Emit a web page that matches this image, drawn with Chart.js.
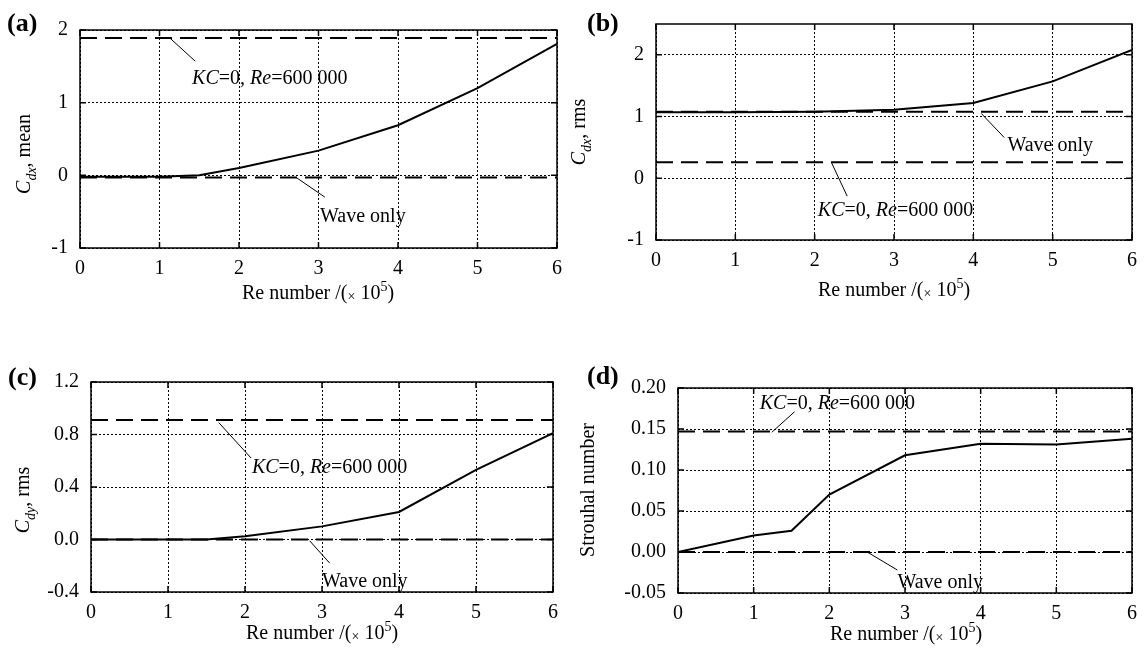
<!DOCTYPE html>
<html>
<head>
<meta charset="utf-8">
<script src="https://cdn.jsdelivr.net/npm/chart.js@4.4.0/dist/chart.umd.min.js"></script>
<style>
  html, body { margin: 0; padding: 0; background: #fff; }
  #wrap { position: relative; width: 1146px; height: 657px; }
  canvas { position: absolute; left: 0; top: 0; }
</style>
</head>
<body>
<div id="wrap">
  <canvas id="chartA" width="1146" height="657"></canvas>
  <canvas id="chartB" width="1146" height="657"></canvas>
  <canvas id="chartC" width="1146" height="657"></canvas>
  <canvas id="chartD" width="1146" height="657"></canvas>
</div>
<script>
(() => {
  'use strict'

  // ---- data ----
  const xTicks = [0, 1, 2, 3, 4, 5, 6];

  const reA = [0, 1, 1.5, 2, 3, 4, 5, 6];
  const cdxMean = [-0.02, -0.02, 0.0, 0.1, 0.34, 0.69, 1.2, 1.81];
  const cdxMeanSteady = 1.89;   // KC=0, Re=600 000
  const cdxMeanWave = -0.03;    // wave only
  const yTicksA = [-1, 0, 1, 2];

  const reB = [0, 1, 2, 3, 4, 5, 6];
  const cdxRms = [1.07, 1.07, 1.08, 1.11, 1.22, 1.57, 2.08];
  const cdxRmsSteady = 0.26;
  const cdxRmsWave = 1.08;
  const yTicksB = [-1, 0, 1, 2];

  const reC = [0, 1, 1.5, 2, 3, 4, 5, 6];
  const cdyRms = [0, 0, 0, 0.025, 0.1, 0.21, 0.53, 0.81];
  const cdyRmsSteady = 0.91;
  const cdyRmsWave = 0.0;
  const yTicksC = [-0.4, 0, 0.4, 0.8, 1.2];

  const reD = [0, 1, 1.5, 2, 3, 4, 5, 6];
  const strouhal = [0, 0.02, 0.026, 0.07, 0.118, 0.132, 0.131, 0.138];
  const strouhalSteady = 0.147;
  const strouhalWave = 0.0;
  const yTicksD = [-0.05, 0, 0.05, 0.10, 0.15, 0.20];

  // ---- text helpers ----
  const FAM = '"Liberation Serif", "Times New Roman", serif';
  function fontFor(style, size) {
    if (style === 'b') return `bold ${size}px ${FAM}`;
    if (style === 'i') return `italic ${size}px ${FAM}`;
    if (style === 'isub') return `italic ${Math.round(size * 0.72)}px ${FAM}`;
    if (style === 'sup' || style === 'low') return `${Math.round(size * 0.72)}px ${FAM}`;
    return `${size}px ${FAM}`;
  }
  function shiftFor(style, size) {
    if (style === 'isub') return size * 0.3;
    if (style === 'sup') return -size * 0.38;
    if (style === 'low') return size * 0.12;
    return 0;
  }
  function drawRich(ctx, segs, cx, cy, size, align, rot) {
    ctx.save();
    ctx.translate(cx, cy);
    if (rot) ctx.rotate(-Math.PI / 2);
    ctx.textBaseline = 'alphabetic';
    ctx.textAlign = 'left';
    ctx.fillStyle = '#000';
    let w = 0;
    segs.forEach(([t, s]) => { ctx.font = fontFor(s, size); w += ctx.measureText(t).width; });
    let px = align === 'center' ? -w / 2 : 0;
    const base = size * 0.34;
    segs.forEach(([t, s]) => {
      ctx.font = fontFor(s, size);
      ctx.fillText(t, px, base + shiftFor(s, size));
      px += ctx.measureText(t).width;
    });
    ctx.restore();
  }

  const kcText = [['KC', 'i'], ['=0, ', ''], ['Re', 'i'], ['=600 000', '']];
  const waveText = [['Wave only', '']];
  const xTitle = [['Re number /(', ''], ['\u00d7', 'low'], [' 10', ''], ['5', 'sup'], [')', '']];

  // box, inner ticks, labels and notes
  const deco = {
    id: 'deco',
    afterDraw(chart, args, o) {
      const { ctx, chartArea: a, scales: { x, y } } = chart;
      ctx.save();
      ctx.setLineDash([]);
      ctx.strokeStyle = '#000';
      ctx.lineWidth = 1.5;
      ctx.strokeRect(a.left, a.top, a.right - a.left, a.bottom - a.top);
      ctx.beginPath();
      x.ticks.forEach(t => {
        const px = x.getPixelForValue(t.value);
        ctx.moveTo(px, a.bottom); ctx.lineTo(px, a.bottom - 6);
        ctx.moveTo(px, a.top); ctx.lineTo(px, a.top + 6);
      });
      y.ticks.forEach(t => {
        const py = y.getPixelForValue(t.value);
        ctx.moveTo(a.left, py); ctx.lineTo(a.left + 6, py);
        ctx.moveTo(a.right, py); ctx.lineTo(a.right - 6, py);
      });
      ctx.stroke();

      ctx.lineWidth = 1;
      o.notes.forEach(n => {
        ctx.beginPath();
        ctx.moveTo(x.getPixelForValue(n.from[0]), y.getPixelForValue(n.from[1]));
        ctx.lineTo(x.getPixelForValue(n.to[0]), y.getPixelForValue(n.to[1]));
        ctx.stroke();
        drawRich(ctx, n.text, x.getPixelForValue(n.at[0]), y.getPixelForValue(n.at[1]), 20, 'left', false);
      });
      ctx.restore();

      drawRich(ctx, [[o.label, 'b']], o.labelAt[0], o.labelAt[1], 26, 'left', false);
      drawRich(ctx, o.yTitle, o.yTitleAt[0], o.yTitleAt[1], 20, 'center', true);
      drawRich(ctx, xTitle, o.xTitleAt[0], o.xTitleAt[1], 20, 'center', false);
    }
  };

  const W = 1146, H = 657;
  const Y_AXIS_W = 62, X_AXIS_H = 34;

  function makePanel(id, area, xs, ys, steady, wave, yTicks, yMin, yMax, digits, decoOpts) {
    const line = (v) => [{ x: 0, y: v }, { x: 6, y: v }];
    return new Chart(document.getElementById(id), {
      type: 'line',
      data: {
        datasets: [{
          data: xs.map((v, i) => ({ x: v, y: ys[i] })),
          borderColor: '#000',
          borderWidth: 2,
          pointRadius: 0,
          tension: 0
        }, {
          data: line(steady),
          borderColor: '#000',
          borderWidth: 2,
          borderDash: [17, 8],
          pointRadius: 0
        }, {
          data: line(wave),
          borderColor: '#000',
          borderWidth: 2,
          borderDash: [17, 8],
          pointRadius: 0
        }]
      },
      options: {
        responsive: false,
        animation: false,
        events: [],
        layout: {
          padding: {
            left: area.l - Y_AXIS_W,
            top: area.t,
            right: W - area.r,
            bottom: H - area.b - X_AXIS_H
          }
        },
        scales: {
          x: {
            type: 'linear',
            min: 0,
            max: 6,
            afterFit: s => { s.height = X_AXIS_H; },
            afterBuildTicks: s => { s.ticks = xTicks.map(v => ({ value: v })); },
            grid: { color: '#000', lineWidth: 1, drawTicks: false },
            border: { display: false, dash: [2, 2] },
            ticks: {
              color: '#000',
              padding: 9,
              maxRotation: 0,
              autoSkip: false,
              font: { family: 'Liberation Serif', size: 20 },
              callback: v => String(v)
            }
          },
          y: {
            type: 'linear',
            min: yMin,
            max: yMax,
            afterFit: s => { s.width = Y_AXIS_W; },
            afterBuildTicks: s => { s.ticks = yTicks.map(v => ({ value: v })); },
            grid: { color: '#000', lineWidth: 1, drawTicks: false },
            border: { display: false, dash: [2, 2] },
            ticks: {
              color: '#000',
              padding: 12,
              autoSkip: false,
              font: { family: 'Liberation Serif', size: 20 },
              callback: v => v.toFixed(digits)
            }
          }
        },
        plugins: {
          legend: { display: false },
          tooltip: { enabled: false },
          deco: decoOpts
        }
      },
      plugins: [deco]
    });
  }

  makePanel('chartA', { l: 80, t: 30, r: 557, b: 248 }, reA, cdxMean, cdxMeanSteady, cdxMeanWave,
    yTicksA, -1, 2, 0, {
      label: '(a)', labelAt: [7, 22],
      yTitle: [['C', 'i'], ['dx', 'isub'], [', mean', '']], yTitleAt: [23, 154],
      xTitleAt: [318, 292],
      notes: [
        { from: [1.13, 1.89], to: [1.45, 1.57], at: [1.41, 1.35], text: kcText },
        { from: [2.72, -0.03], to: [3.08, -0.3], at: [3.02, -0.55], text: waveText }
      ]
    });

  makePanel('chartB', { l: 656, t: 23, r: 1133, b: 240 }, reB, cdxRms, cdxRmsSteady, cdxRmsWave,
    yTicksB, -1, 2.5, 0, {
      label: '(b)', labelAt: [587, 22],
      yTitle: [['C', 'i'], ['dx', 'isub'], [', rms', '']], yTitleAt: [578, 132],
      xTitleAt: [894, 289],
      notes: [
        { from: [4.1, 1.05], to: [4.39, 0.66], at: [4.43, 0.56], text: waveText },
        { from: [2.21, 0.26], to: [2.41, -0.29], at: [2.04, -0.5], text: kcText }
      ]
    });

  makePanel('chartC', { l: 91, t: 382, r: 553, b: 592 }, reC, cdyRms, cdyRmsSteady, cdyRmsWave,
    yTicksC, -0.4, 1.2, 1, {
      label: '(c)', labelAt: [8, 376],
      yTitle: [['C', 'i'], ['dy', 'isub'], [', rms', '']], yTitleAt: [22, 500],
      xTitleAt: [322, 632],
      notes: [
        { from: [1.66, 0.89], to: [2.08, 0.62], at: [2.09, 0.56], text: kcText },
        { from: [2.84, -0.01], to: [3.1, -0.18], at: [3.0, -0.31], text: waveText }
      ]
    });

  makePanel('chartD', { l: 678, t: 388, r: 1134, b: 593 }, reD, strouhal, strouhalSteady, strouhalWave,
    yTicksD, -0.05, 0.2, 2, {
      label: '(d)', labelAt: [587, 375],
      yTitle: [['Strouhal number', '']], yTitleAt: [587, 490],
      xTitleAt: [906, 633],
      notes: [
        { from: [1.24, 0.146], to: [1.54, 0.171], at: [1.08, 0.183], text: kcText },
        { from: [2.5, 0], to: [2.9, -0.022], at: [2.9, -0.035], text: waveText }
      ]
    });

})();
</script>
</body>
</html>
